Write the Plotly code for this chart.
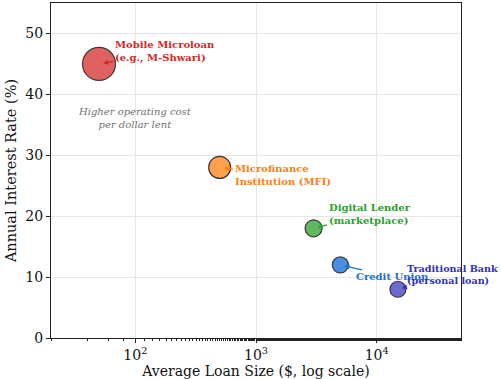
import math
import plotly.graph_objects as go

# Lender types: average loan size ($) vs. annual interest rate (%)
lenders = ["Mobile Microloan<br>(e.g., M-Shwari)", "Microfinance<br>Institution (MFI)",
           "Digital Lender<br>(marketplace)", "Credit Union", "Traditional Bank<br>(personal loan)"]
loan_size = [50, 500, 3000, 5000, 15000]
interest_rate = [45, 28, 18, 12, 8]
bubble_size = [33, 22, 17, 16, 16]

fill_colors = ["#e06162", "#ffa04d", "#60b860", "#4a8fdd", "#6b6bd0"]
text_colors = ["#d62728", "#ff7f0e", "#2ca02c", "#1e6ed2", "#3030bf"]
# label offsets (px) of each text box centre relative to its bubble
label_dx = [66, 63, 56, 52, 55]
label_dy = [-12, 8, -14, 12, -15]
label_size = [10, 10, 10, 10, 9.6]

x_ticks = [100, 1000, 10000]
x_tick_text = ["10<sup>2</sup>", "10<sup>3</sup>", "10<sup>4</sup>"]
y_ticks = [0, 10, 20, 30, 40, 50]

FONT = "DejaVu Serif"

fig = go.Figure()
fig.add_trace(go.Scatter(
    x=loan_size, y=interest_rate, mode="markers",
    marker=dict(size=bubble_size, color=fill_colors, opacity=1,
                line=dict(color="#3a3a3a", width=1.2)),
    hoverinfo="skip", showlegend=False, cliponaxis=False,
))

# annotation positions on a log axis are given in log10 units
for lab, xv, yv, c, dx, dy, fs in zip(lenders, loan_size, interest_rate, text_colors,
                                      label_dx, label_dy, label_size):
    fig.add_annotation(
        x=math.log10(xv), y=yv, xref="x", yref="y", text=f"<b>{lab}</b>",
        showarrow=True, ax=dx, ay=dy, axref="pixel", ayref="pixel",
        arrowhead=2, arrowsize=0.8, arrowwidth=1.3, arrowcolor=c, standoff=4,
        align="left", font=dict(family=FONT, size=fs, color=c),
    )

fig.add_annotation(
    x=2, y=36.2, xref="x", yref="y", text="<i>Higher operating cost<br>per dollar lent</i>",
    showarrow=False, align="center", font=dict(family=FONT, size=10, color="#707070"),
)

fig.update_layout(
    width=501, height=379,
    margin=dict(l=51, r=40, t=2, b=40),
    paper_bgcolor="white", plot_bgcolor="white",
    font=dict(family=FONT, size=14, color="#111111"),
    xaxis=dict(
        type="log", range=[1.30103, 4.69897],
        tickvals=x_ticks, ticktext=x_tick_text,
        ticks="outside", ticklen=4, tickwidth=1, tickcolor="#222",
        minor=dict(ticks="outside", ticklen=2, tickcolor="#222", showgrid=False),
        showgrid=True, gridcolor="#e6e6e6", gridwidth=1,
        showline=True, linecolor="#222", linewidth=1.2, mirror=True,
        zeroline=False,
        title=dict(text="Average Loan Size ($, log scale)", font=dict(size=14), standoff=4),
    ),
    yaxis=dict(
        range=[0, 55], tickvals=y_ticks,
        ticks="outside", ticklen=4, tickwidth=1, tickcolor="#222",
        showgrid=True, gridcolor="#e6e6e6", gridwidth=1,
        showline=True, linecolor="#222", linewidth=1.2, mirror=True,
        zeroline=False,
        title=dict(text="Annual Interest Rate (%)", font=dict(size=14.5), standoff=5),
    ),
)

fig.write_html("out.html")
